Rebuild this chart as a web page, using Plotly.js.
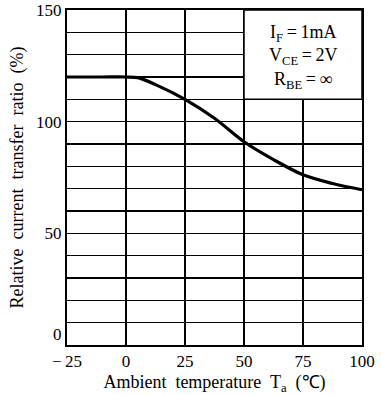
<!DOCTYPE html>
<html>
<head>
<meta charset="utf-8">
<script src="https://cdn.plot.ly/plotly-3.0.1.min.js"></script>
<style>
  html, body { margin: 0; padding: 0; background: #fff; }
  #chart { width: 381px; height: 395px; }
</style>
</head>
<body>
<div id="chart"></div>
<script>
// Relative current transfer ratio vs. ambient temperature
const temperature = [-25, -10, 0, 5, 12.5, 25, 37.5, 50, 62.5, 75, 87.5, 100];
const ctrRatio    = [120, 120, 120, 119.7, 116.6, 110, 101.5, 91, 83, 76.2, 72.3, 69.5];

const xTickVals = [-25, 0, 25, 50, 75, 100];
const xTickText = ['\u2212\u200925', '0', '25', '50', '75', '100'];
const yTickVals = [0, 50, 100, 150];
// the zero label sits a little above the corner, clear of the x labels
const yTickText = ['0<br>\u00a0', '50', '100', '150'];
const yGridVals = [10, 20, 30, 40, 60, 70, 80, 90, 110, 120, 130, 140];

const conditions = ['I<sub>F</sub>\u2009=\u20091mA', 'V<sub>CE</sub>\u2009=\u20092V', 'R<sub>BE</sub>\u2009=\u2009\u221e'];

const serif = 'Liberation Serif';

const trace = {
  x: temperature,
  y: ctrRatio,
  type: 'scatter',
  mode: 'lines',
  line: { color: '#000', width: 3.2, shape: 'spline', smoothing: 0.9 },
  hoverinfo: 'skip'
};

const layout = {
  width: 381,
  height: 395,
  margin: { l: 67, r: 19, t: 10, b: 50 },
  paper_bgcolor: '#fff',
  plot_bgcolor: '#fff',
  showlegend: false,
  font: { family: serif, color: '#000', size: 16 },
  xaxis: {
    range: [-25, 100],
    tickvals: xTickVals,
    ticktext: xTickText,
    showgrid: true,
    gridcolor: '#000',
    gridwidth: 1.4,
    zeroline: false,
    showline: true,
    mirror: true,
    linecolor: '#000',
    linewidth: 2,
    ticks: '',
    ticklen: 0,
    tickfont: { family: serif, size: 17, color: '#000' },
    title: {
      text: 'Ambient\u00a0 temperature\u00a0 T<sub>a</sub>\u00a0 (\u2103)',
      font: { family: serif, size: 18, color: '#000' },
      standoff: 6
    },
    fixedrange: true
  },
  yaxis: {
    range: [0, 150],
    tickvals: yTickVals,
    ticktext: yTickText,
    showgrid: true,
    gridcolor: '#000',
    gridwidth: 1.4,
    minor: { tickvals: yGridVals, showgrid: true, gridcolor: '#000', gridwidth: 1.4, ticks: '' },
    zeroline: false,
    showline: true,
    mirror: true,
    linecolor: '#000',
    linewidth: 2,
    ticks: '',
    ticklen: 0,
    tickfont: { family: serif, size: 17, color: '#000' },
    title: {
      text: 'Relative\u00a0 current\u00a0 transfer\u00a0 ratio\u00a0 (%)',
      font: { family: serif, size: 18, color: '#000' },
      standoff: 8
    },
    fixedrange: true
  },
  shapes: [{
    type: 'rect',
    xref: 'x', yref: 'y',
    x0: 50, x1: 100, y0: 110, y1: 150,
    fillcolor: '#fff',
    line: { color: '#000', width: 1.5 },
    layer: 'above'
  }],
  annotations: [{
    xref: 'x', yref: 'y',
    x: 75, y: 129,
    text: conditions.join('<br>'),
    showarrow: false,
    align: 'center',
    font: { family: serif, size: 18, color: '#000' }
  }]
};

Plotly.newPlot('chart', [trace], layout, { displayModeBar: false, staticPlot: true });
</script>
</body>
</html>
